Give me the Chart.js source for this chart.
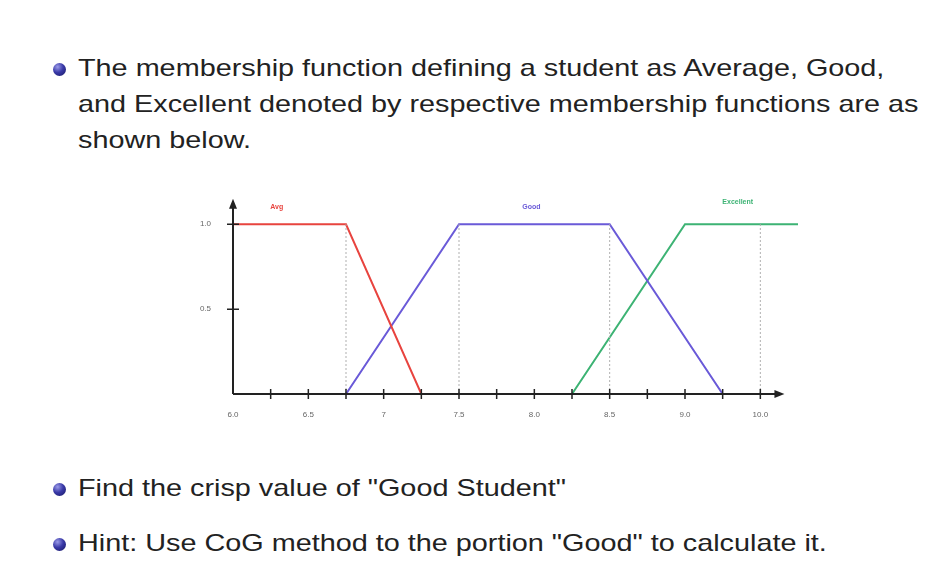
<!DOCTYPE html>
<html>
<head>
<meta charset="utf-8">
<script src="https://cdn.jsdelivr.net/npm/chart.js@4/dist/chart.umd.min.js"></script>
<style>
  body { margin: 0; width: 932px; height: 565px; background: #fff; position: relative; overflow: hidden;
         font-family: "Liberation Sans", Arial, sans-serif; color: #222; }
  .item { position: absolute; left: 78px; font-size: 24px; line-height: 36px; white-space: nowrap; }
  .item span { display: inline-block; transform: scaleX(1.2); transform-origin: left top; }
  .item::before { content: ""; position: absolute; left: -25px; top: 13px; width: 13px; height: 13px; border-radius: 50%;
                  background: radial-gradient(circle at 35% 30%, #9a9ae8 0%, #3a3aa8 45%, #141460 100%); }
  #wrap { position: absolute; left: 150px; top: 180px; width: 680px; height: 270px; }
</style>
</head>
<body>
<div class="item" style="top:50px"><span>The membership function defining a student as Average, Good,<br>and Excellent denoted by respective membership functions are as<br>shown below.</span></div>
<div class="item" style="top:470px"><span>Find the crisp value of "Good Student"</span></div>
<div class="item" style="top:525px"><span>Hint: Use CoG method to the portion "Good" to calculate it.</span></div>
<div id="wrap"><canvas id="chart" width="680" height="270"></canvas></div>
<script>
const avgX = [6.0, 6.75, 7.25];
const avgY = [1, 1, 0];
const goodX = [6.75, 7.5, 8.5, 9.25];
const goodY = [0, 1, 1, 0];
const excX = [8.25, 9.0, 9.75];
const excY = [0, 1, 1];
const guideX = [6.75, 7.5, 8.5, 9.5];
const xTicks = [6, 6.25, 6.5, 6.75, 7, 7.25, 7.5, 7.75, 8, 8.25, 8.5, 8.75, 9, 9.25, 9.5];
const xMajor = [6, 6.5, 7, 7.5, 8, 8.5, 9, 9.5];
const xLabels = ['6.0', '6.5', '7', '7.5', '8.0', '8.5', '9.0', '10.0'];
const yTicks = [0.5, 1.0];
const yLabels = ['0.5', '1.0'];

function pts(xs, ys) {
    return xs.map((x, i) => ({ x: x, y: ys[i] }));
}

const datasets = guideX.map(x => ({
    data: [{ x: x, y: 0 }, { x: x, y: 1 }],
    borderColor: '#b0b0b0', borderWidth: 1, borderDash: [2, 2], pointRadius: 0
}));
datasets.push({ label: 'Avg', data: pts(avgX, avgY), borderColor: '#e8443f', borderWidth: 2, pointRadius: 0 });
datasets.push({ label: 'Good', data: pts(goodX, goodY), borderColor: '#6a5ad8', borderWidth: 2, pointRadius: 0 });
datasets.push({ label: 'Excellent', data: pts(excX, excY), borderColor: '#3db374', borderWidth: 2, pointRadius: 0 });

// axes with arrows, crossing tick marks and series names
const axesPlugin = {
    id: 'axes',
    afterDatasetsDraw(chart) {
        const ctx = chart.ctx;
        const x = chart.scales.x, y = chart.scales.y;
        const x0 = x.getPixelForValue(6), y0 = y.getPixelForValue(0);
        const xEnd = x.getPixelForValue(9.66), yTop = chart.chartArea.top;
        ctx.save();
        ctx.strokeStyle = '#222';
        ctx.fillStyle = '#222';
        ctx.lineWidth = 2;
        ctx.beginPath();
        ctx.moveTo(x0, y0); ctx.lineTo(xEnd - 6, y0);
        ctx.moveTo(x0, y0); ctx.lineTo(x0, yTop + 6);
        ctx.stroke();
        ctx.beginPath();
        ctx.moveTo(xEnd, y0); ctx.lineTo(xEnd - 10, y0 - 4); ctx.lineTo(xEnd - 10, y0 + 4); ctx.closePath();
        ctx.moveTo(x0, yTop); ctx.lineTo(x0 - 4, yTop + 10); ctx.lineTo(x0 + 4, yTop + 10); ctx.closePath();
        ctx.fill();
        ctx.lineWidth = 1.5;
        ctx.beginPath();
        xTicks.forEach(v => {
            if (v === 6) return;
            const px = x.getPixelForValue(v);
            ctx.moveTo(px, y0 - 5); ctx.lineTo(px, y0 + 5);
        });
        yTicks.forEach(v => {
            const py = y.getPixelForValue(v);
            ctx.moveTo(x0 - 6, py); ctx.lineTo(x0 + 6, py);
        });
        ctx.stroke();
        ctx.font = 'bold 7px "Liberation Sans", Arial';
        ctx.textAlign = 'center';
        const names = [['Avg', 6.29, 1.11, '#e8443f'], ['Good', 7.98, 1.11, '#6a5ad8'], ['Excellent', 9.35, 1.135, '#3db374']];
        names.forEach(n => {
            ctx.fillStyle = n[3];
            ctx.fillText(n[0], x.getPixelForValue(n[1]), y.getPixelForValue(n[2]) + 3);
        });
        ctx.restore();
    }
};

new Chart(document.getElementById('chart'), {
    type: 'line',
    data: { datasets: datasets },
    plugins: [axesPlugin],
    options: {
        responsive: false,
        animation: false,
        layout: { padding: { top: 18, right: 32, left: 0, bottom: 0 } },
        plugins: { legend: { display: false }, tooltip: { enabled: false } },
        scales: {
            x: {
                type: 'linear', min: 6, max: 9.75,
                afterBuildTicks: s => { s.ticks = xTicks.map(v => ({ value: v })); },
                afterFit: s => { s.height = 56; },
                grid: { display: false },
                border: { display: false },
                ticks: {
                    autoSkip: false, maxRotation: 0, padding: 8,
                    color: '#666', font: { size: 8, family: '"Liberation Sans", Arial' },
                    callback: v => { const i = xMajor.indexOf(v); return i >= 0 ? xLabels[i] : ''; }
                }
            },
            y: {
                min: 0, max: 1.15,
                afterBuildTicks: s => { s.ticks = yTicks.map(v => ({ value: v })); },
                afterFit: s => { s.width = 83; },
                grid: { display: false },
                border: { display: false },
                ticks: {
                    padding: 14,
                    color: '#666', font: { size: 8, family: '"Liberation Sans", Arial' },
                    callback: v => { const i = yTicks.indexOf(v); return i >= 0 ? yLabels[i] : ''; }
                }
            }
        }
    }
});
</script>
</body>
</html>
